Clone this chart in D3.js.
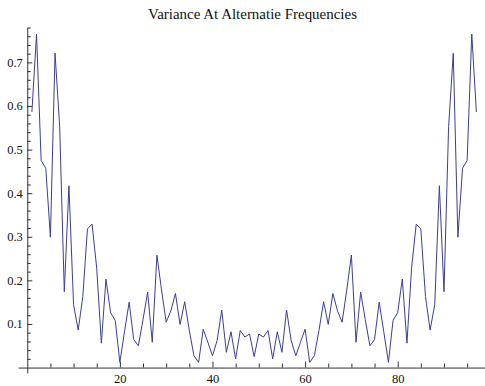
<!DOCTYPE html>
<html>
<head>
<meta charset="utf-8">
<script src="https://cdnjs.cloudflare.com/ajax/libs/d3/7.8.5/d3.min.js"></script>
<style>
  body { margin: 0; background: #fff; }
  svg text { font-family: "Liberation Serif", "Times New Roman", serif; }
</style>
</head>
<body>
<div id="variance_chart"></div>
<script>
//frequency index (x) and variance (y)
var freqs = [
  1, 2, 3, 4, 5, 6, 7, 8, 9, 10, 11, 12, 13, 14, 15, 16, 17, 18, 19, 20,
  21, 22, 23, 24, 25, 26, 27, 28, 29, 30, 31, 32, 33, 34, 35, 36, 37, 38, 39, 40,
  41, 42, 43, 44, 45, 46, 47, 48, 49, 50, 51, 52, 53, 54, 55, 56, 57, 58, 59, 60,
  61, 62, 63, 64, 65, 66, 67, 68, 69, 70, 71, 72, 73, 74, 75, 76, 77, 78, 79, 80,
  81, 82, 83, 84, 85, 86, 87, 88, 89, 90, 91, 92, 93, 94, 95, 96, 97
];
var variance = [
  0.586, 0.765, 0.475, 0.457, 0.299, 0.721, 0.553, 0.174, 0.417, 0.144,
  0.086, 0.163, 0.318, 0.329, 0.228, 0.056, 0.203, 0.126, 0.108, 0.012,
  0.082, 0.150, 0.064, 0.050, 0.110, 0.173, 0.058, 0.258, 0.178, 0.104,
  0.130, 0.170, 0.099, 0.151, 0.085, 0.027, 0.012, 0.088, 0.058, 0.027,
  0.062, 0.132, 0.035, 0.082, 0.020, 0.085, 0.070, 0.077, 0.025,
  0.077, 0.070, 0.085, 0.020, 0.082, 0.035, 0.132, 0.062, 0.027, 0.058,
  0.088, 0.012, 0.027, 0.085, 0.151, 0.099, 0.170, 0.130, 0.104, 0.178,
  0.258, 0.058, 0.173, 0.110, 0.050, 0.064, 0.150, 0.082, 0.012, 0.108,
  0.126, 0.203, 0.056, 0.228, 0.329, 0.318, 0.163, 0.086, 0.144, 0.417,
  0.174, 0.553, 0.721, 0.299, 0.457, 0.475, 0.765, 0.586
];

//tick values
var xMajorTicks = [20, 40, 60, 80];
var xMinorTicks = [5, 10, 15, 25, 30, 35, 45, 50, 55, 65, 70, 75, 85, 90, 95];
var yMajorTicks = [0.1, 0.2, 0.3, 0.4, 0.5, 0.6, 0.7];
var yMinorTicks = [0.02, 0.04, 0.06, 0.08, 0.12, 0.14, 0.16, 0.18, 0.22, 0.24, 0.26, 0.28,
  0.32, 0.34, 0.36, 0.38, 0.42, 0.44, 0.46, 0.48, 0.52, 0.54, 0.56, 0.58,
  0.62, 0.64, 0.66, 0.68, 0.72, 0.74, 0.76, 0.78];

var title = "Variance At Alternatie Frequencies";

var width = 485, height = 386;
var serif = "Liberation Serif, Times New Roman, serif";

var svg = d3.select("#variance_chart")
  .append("svg")
  .attr("width", width)
  .attr("height", height)
  .attr("font-family", serif);

//scales (axes cross at the origin, mathematica style)
var xScale = d3.scaleLinear().domain([-2, 98.9]).range([18, 485.2]);
var yScale = d3.scaleLinear().domain([-0.012, 0.78]).range([372.8, 27.5]);

var axisColor = "#333";

//x axis: minor ticks then major ticks with labels
svg.append("g")
  .attr("transform", "translate(0," + yScale(0) + ")")
  .call(d3.axisBottom(xScale).tickValues(xMinorTicks).tickSizeInner(-4).tickSizeOuter(0).tickFormat(""));

var xMajor = svg.append("g")
  .attr("transform", "translate(0," + yScale(0) + ")")
  .call(d3.axisBottom(xScale).tickValues(xMajorTicks).tickSizeInner(-6).tickSizeOuter(0).tickFormat(d3.format("d")));
xMajor.select(".domain").remove();
xMajor.selectAll("text").attr("y", 15.5).attr("dy", null);

//y axis
svg.append("g")
  .attr("transform", "translate(" + xScale(0) + ",0)")
  .call(d3.axisLeft(yScale).tickValues(yMinorTicks).tickSizeInner(-3.5).tickSizeOuter(0).tickFormat(""));

var yMajor = svg.append("g")
  .attr("transform", "translate(" + xScale(0) + ",0)")
  .call(d3.axisLeft(yScale).tickValues(yMajorTicks).tickSizeInner(-5).tickSizeOuter(0).tickPadding(4.5).tickFormat(d3.format(".1f")));
yMajor.select(".domain").remove();

//axis styling (override the sans-serif that d3 puts on axis groups)
svg.selectAll("g").attr("font-family", serif).attr("font-size", 12.5);
svg.selectAll(".domain").attr("stroke", axisColor).attr("stroke-width", 1);
svg.selectAll(".tick line").attr("stroke", axisColor).attr("stroke-width", 1);
svg.selectAll(".tick text").attr("fill", "#111");

//the variance line
var line = d3.line()
  .x(function(d, i) { return xScale(freqs[i]); })
  .y(function(d) { return yScale(d); });

svg.append("path")
  .datum(variance)
  .attr("d", line)
  .attr("fill", "none")
  .attr("stroke", "#3d3d99")
  .attr("stroke-width", 1);

//title
svg.append("text")
  .attr("x", 252.5)
  .attr("y", 19)
  .attr("text-anchor", "middle")
  .attr("textLength", 209)
  .attr("lengthAdjust", "spacingAndGlyphs")
  .attr("font-size", 14.5)
  .attr("fill", "#111")
  .text(title);
</script>
</body>
</html>
